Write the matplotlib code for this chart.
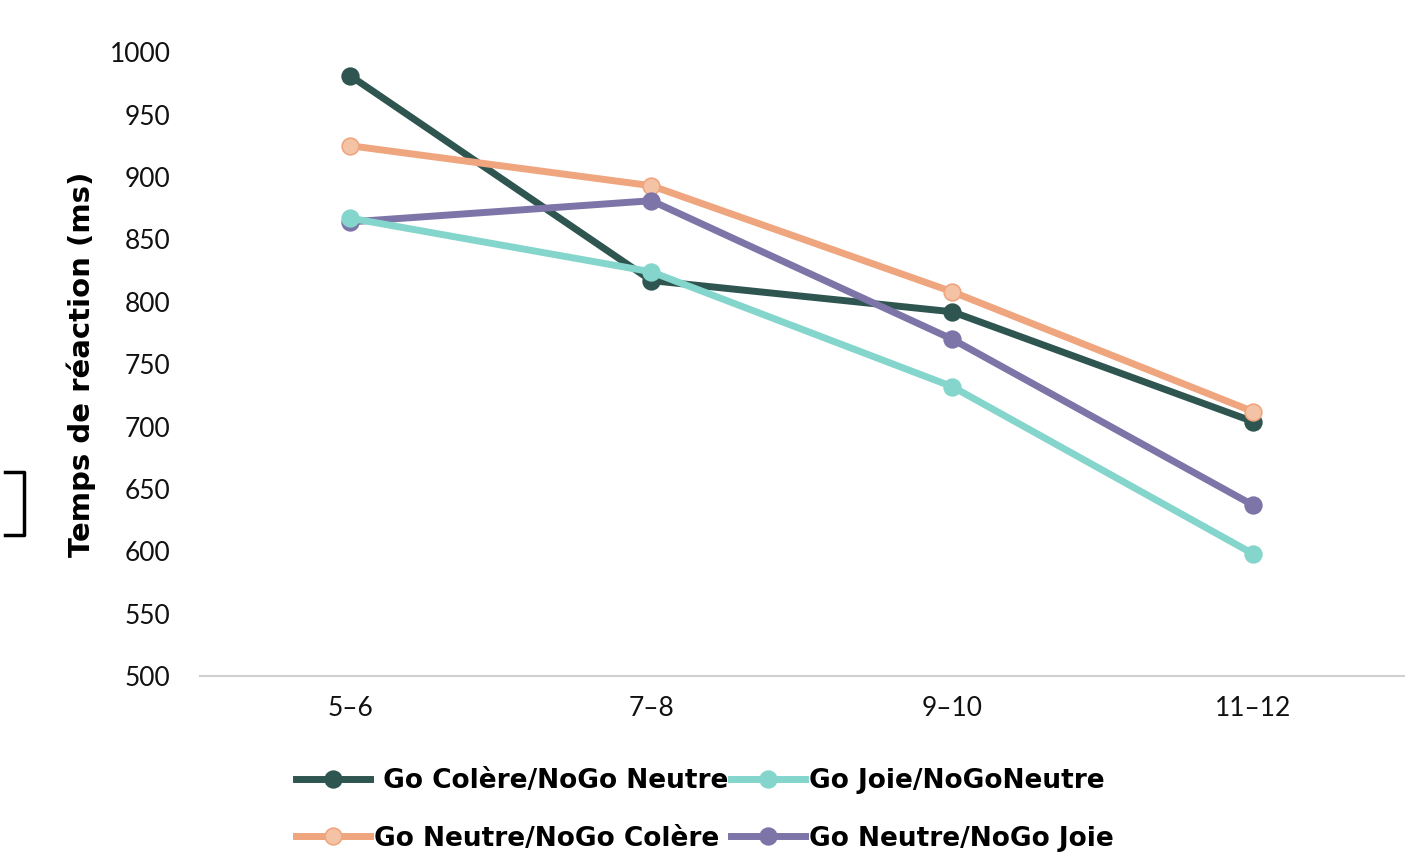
import matplotlib.pyplot as plt
from matplotlib.lines import Line2D

# === Data ===
ages = ["5–6", "7–8", "9–10", "11–12"]
colere_neutre = [981, 817, 792, 704]
joie_neutre = [867, 824, 732, 598]
neutre_colere = [925, 893, 808, 712]
neutre_joie = [864, 881, 770, 637]

labels = [" Go Colère/NoGo Neutre", "Go Joie/NoGoNeutre",
          "Go Neutre/NoGo Colère", "Go Neutre/NoGo Joie"]
colors = ["#2F5551", "#84D5CC", "#EFA57E", "#7D74A8"]
face_colors = ["#2F5551", "#84D5CC", "#F4C3A6", "#7D74A8"]

plt.rcParams['font.family'] = ['Lato', 'DejaVu Sans']

fig = plt.figure(figsize=(14.18, 8.55), dpi=100)
ax = fig.add_axes([0.141, 0.209, 0.849, 0.730])

x = range(len(ages))
series = [colere_neutre, neutre_colere, neutre_joie, joie_neutre]
order = [0, 2, 3, 1]
handles = {}
for s, i in zip(series, order):
    h, = ax.plot(x, s, color=colors[i], lw=5, marker="o", ms=12,
                 markerfacecolor=face_colors[i], markeredgecolor=colors[i],
                 markeredgewidth=1.2, label=labels[i], zorder=3)
    handles[i] = h

ax.set_xlim(-0.5, 3.5)
ax.set_ylim(500, 1000)
ax.set_yticks(range(500, 1001, 50))
ax.set_xticks(list(x))
ax.set_xticklabels(ages)
ax.tick_params(axis="both", length=0, labelsize=19, colors="#111111")
ax.tick_params(axis="y", pad=21)
ax.tick_params(axis="x", pad=14)
for side in ["top", "right", "left"]:
    ax.spines[side].set_visible(False)
ax.spines["bottom"].set_color("#D0D0D0")
ax.spines["bottom"].set_linewidth(1.5)

ax.set_ylabel("Temps de réaction (ms)", fontsize=21, fontweight="bold",
              family="DejaVu Sans", labelpad=10)

# legend fills column by column: put items so rows read 0,1 / 2,3
leg_order = [0, 2, 1, 3]
leg = fig.legend([handles[i] for i in leg_order], [labels[i] for i in leg_order],
                 ncol=2, loc="center", bbox_to_anchor=(0.497, 0.053), frameon=False,
                 prop={"size": 19, "weight": "bold", "family": "DejaVu Sans"},
                 handlelength=2.8, handletextpad=0.15, columnspacing=0.1,
                 labelspacing=1.2)

# stray bracket at the left edge of the original image
fig.add_artist(Line2D([5 / 1418, 24 / 1418, 24 / 1418, 5 / 1418],
                      [1 - 472 / 855, 1 - 472 / 855, 1 - 535 / 855, 1 - 535 / 855],
                      color="black", lw=2.5))

fig.savefig("out.png", dpi=100)
